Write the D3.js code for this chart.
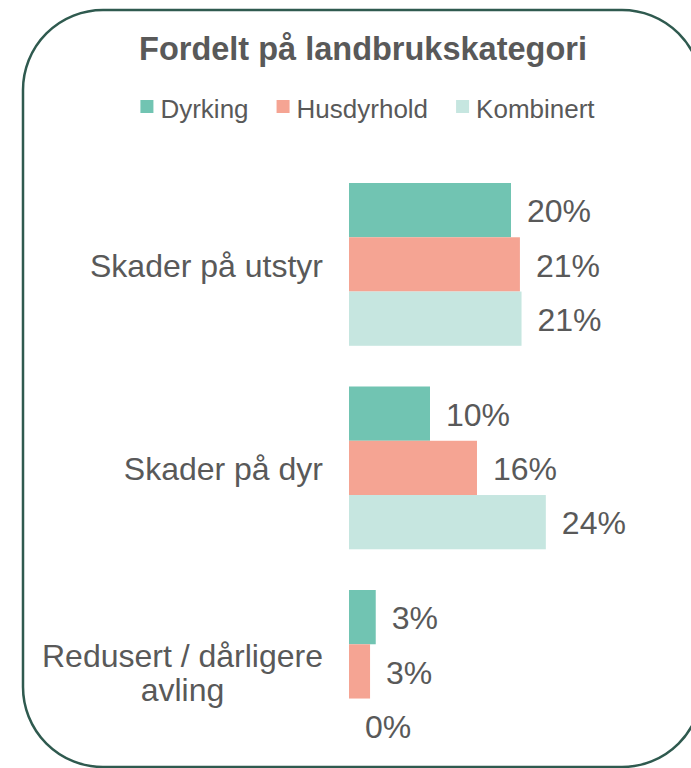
<!DOCTYPE html>
<html>
<head>
<meta charset="utf-8">
<script src="https://cdn.jsdelivr.net/npm/d3@7"></script>
<style>
  body { margin: 0; background: #fff; }
  text { font-family: "Liberation Sans", Arial, sans-serif; fill: #595959; }
</style>
</head>
<body>
<div class="root"></div>
<script>
var width = 691,
    height = 768;

// data
var categories = ["Skader på utstyr", "Skader på dyr", "Redusert / dårligere avling"];
var categoryLines = [["Skader på utstyr"], ["Skader på dyr"], ["Redusert / dårligere", "avling"]];
var seriesNames = ["Dyrking", "Husdyrhold", "Kombinert"];
var dyrking = [20.0, 10.0, 3.3];
var husdyrhold = [21.1, 15.8, 2.6];
var kombinert = [21.3, 24.3, 0];
var colors = ["#71c4b2", "#f5a493", "#c6e6e0"];

var seriesValues = [dyrking, husdyrhold, kombinert];

var svg = d3.select(".root")
  .append("svg")
  .attr("width", width)
  .attr("height", height);

// frame
svg.append("rect")
  .attr("x", 23)
  .attr("y", 10)
  .attr("width", 679)
  .attr("height", 757)
  .attr("rx", 80)
  .attr("ry", 80)
  .attr("fill", "none")
  .attr("stroke", "#2f5a4f")
  .attr("stroke-width", 2.5);

// title
svg.append("text")
  .attr("x", 363)
  .attr("y", 60)
  .attr("text-anchor", "middle")
  .style("font-size", "32.5px")
  .style("font-weight", "bold")
  .text("Fordelt på landbrukskategori");

// legend
var legend = svg.append("g");
var lx = 0;
seriesNames.forEach(function(name, i) {
  var item = legend.append("g").attr("transform", "translate(" + lx + ",0)");
  item.append("rect")
    .attr("x", 0).attr("y", 100)
    .attr("width", 13).attr("height", 13)
    .attr("fill", colors[i]);
  var t = item.append("text")
    .attr("x", 20).attr("y", 118)
    .style("font-size", "26px")
    .text(name);
  lx += 20 + t.node().getComputedTextLength() + 28;
});
var lw = lx - 28;
legend.attr("transform", "translate(" + (367.5 - lw / 2) + ",0)");

// scales
var x = d3.scaleLinear()
  .domain([0, 30])
  .range([349, 592]);

var y = d3.scaleBand()
  .domain(categories)
  .range([162.65, 773.15])
  .paddingInner(0.2)
  .paddingOuter(0.1);

var ySub = d3.scaleBand()
  .domain(seriesNames)
  .range([0, y.bandwidth()]);

var fmt = d3.format(".0f");

var groups = svg.selectAll("g.cat")
  .data(categories)
  .enter().append("g")
  .attr("class", "cat")
  .attr("transform", function(d) { return "translate(0," + y(d) + ")"; });

groups.each(function(cat, ci) {
  var g = d3.select(this);
  seriesNames.forEach(function(s, si) {
    var v = seriesValues[si][ci];
    g.append("rect")
      .attr("x", x(0))
      .attr("y", ySub(s))
      .attr("width", x(v) - x(0))
      .attr("height", ySub.bandwidth())
      .attr("fill", colors[si]);
    g.append("text")
      .attr("x", x(v) + 16)
      .attr("y", ySub(s) + ySub.bandwidth() / 2 + 1)
      .attr("dy", "0.35em")
      .style("font-size", "32px")
      .text(fmt(v) + "%");
  });

  // category label
  var lines = categoryLines[ci];
  var lineH = 34;
  var cy = y.bandwidth() / 2 + 1;
  var label = g.append("text")
    .attr("text-anchor", "middle")
    .style("font-size", "32px");
  var tspans = lines.map(function(l, li) {
    return label.append("tspan")
      .attr("y", cy + (li - (lines.length - 1) / 2) * lineH)
      .attr("dy", "0.35em")
      .text(l);
  });
  var maxW = d3.max(tspans, function(t) { return t.node().getComputedTextLength(); });
  tspans.forEach(function(t) { t.attr("x", 323 - maxW / 2); });
});
</script>
</body>
</html>
